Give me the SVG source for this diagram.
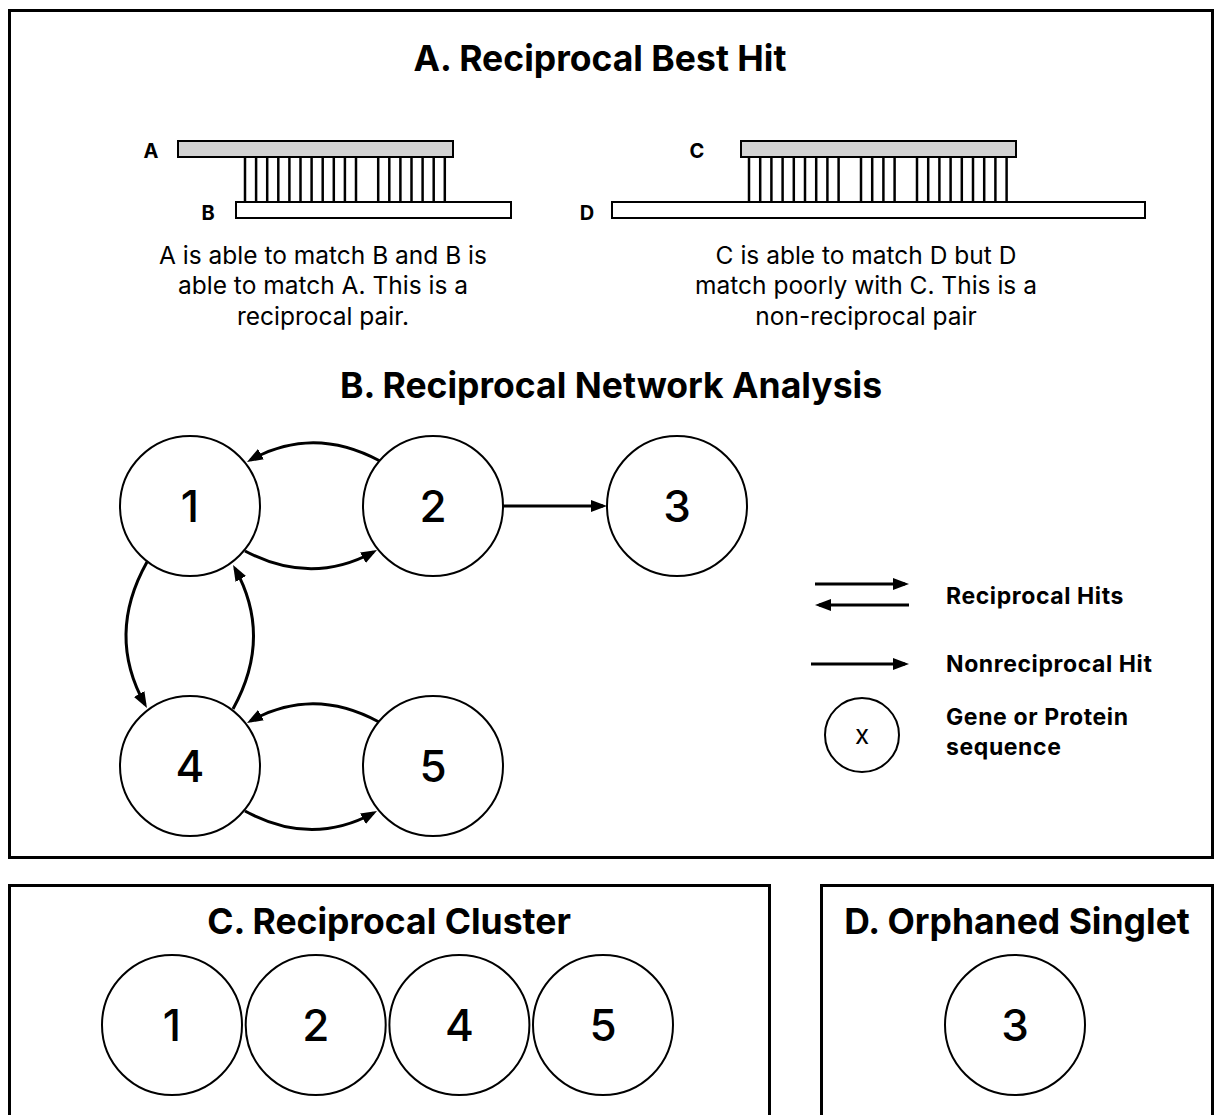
<svg xmlns="http://www.w3.org/2000/svg" width="1221" height="1115" viewBox="0 0 1221 1115">
<style>
text{font-family:Inter,"Liberation Sans",sans-serif;fill:#000}
.title{font-size:35.5px;font-weight:700;text-anchor:middle}
.body{font-size:24.5px;text-anchor:middle}
.lab{font-size:20px;font-weight:700;text-anchor:middle}
.num{font-size:44px;font-weight:500;text-anchor:middle}
.leg{font-size:23px;font-weight:700;letter-spacing:0.6px}
.panel{fill:none;stroke:#000;stroke-width:3}
.node{fill:#fff;stroke:#000;stroke-width:2}
.gray{fill:#d3d3d3;stroke:#000;stroke-width:2}
.white{fill:#fff;stroke:#000;stroke-width:2}
.tick{stroke:#000;stroke-width:2.5}
.edge{fill:none;stroke:#000;stroke-width:3;marker-end:url(#ah)}
</style>
<defs>
<marker id="ah" markerUnits="userSpaceOnUse" markerWidth="16" markerHeight="12" refX="12" refY="6" orient="auto">
<path d="M0,0 L16,6 L0,12 z" fill="#000"/>
</marker>
</defs>
<rect width="1221" height="1115" fill="#fff"/>
<rect class="panel" x="9.5" y="10.5" width="1203" height="847"/>
<rect class="panel" x="9.5" y="885.5" width="760" height="260"/>
<rect class="panel" x="821.5" y="885.5" width="391" height="260"/>

<g id="sectionA">
<text class="title" x="600" y="71">A. Reciprocal Best Hit</text>
<text class="lab" x="151" y="158">A</text>
<text class="lab" x="208" y="220">B</text>
<text class="lab" x="697" y="158">C</text>
<text class="lab" x="587" y="220">D</text>
<g id="ticksAB">
<line class="tick" x1="245" y1="157" x2="245" y2="202"/>
<line class="tick" x1="256.1" y1="157" x2="256.1" y2="202"/>
<line class="tick" x1="267.2" y1="157" x2="267.2" y2="202"/>
<line class="tick" x1="278.3" y1="157" x2="278.3" y2="202"/>
<line class="tick" x1="289.4" y1="157" x2="289.4" y2="202"/>
<line class="tick" x1="300.5" y1="157" x2="300.5" y2="202"/>
<line class="tick" x1="311.6" y1="157" x2="311.6" y2="202"/>
<line class="tick" x1="322.7" y1="157" x2="322.7" y2="202"/>
<line class="tick" x1="333.8" y1="157" x2="333.8" y2="202"/>
<line class="tick" x1="344.9" y1="157" x2="344.9" y2="202"/>
<line class="tick" x1="356" y1="157" x2="356" y2="202"/>
<line class="tick" x1="378.2" y1="157" x2="378.2" y2="202"/>
<line class="tick" x1="389.3" y1="157" x2="389.3" y2="202"/>
<line class="tick" x1="400.4" y1="157" x2="400.4" y2="202"/>
<line class="tick" x1="411.5" y1="157" x2="411.5" y2="202"/>
<line class="tick" x1="422.6" y1="157" x2="422.6" y2="202"/>
<line class="tick" x1="433.7" y1="157" x2="433.7" y2="202"/>
<line class="tick" x1="444.8" y1="157" x2="444.8" y2="202"/>
</g>
<g id="ticksCD">
<line class="tick" x1="749" y1="157" x2="749" y2="202"/>
<line class="tick" x1="760.2" y1="157" x2="760.2" y2="202"/>
<line class="tick" x1="771.4" y1="157" x2="771.4" y2="202"/>
<line class="tick" x1="782.6" y1="157" x2="782.6" y2="202"/>
<line class="tick" x1="793.8" y1="157" x2="793.8" y2="202"/>
<line class="tick" x1="805" y1="157" x2="805" y2="202"/>
<line class="tick" x1="816.2" y1="157" x2="816.2" y2="202"/>
<line class="tick" x1="827.4" y1="157" x2="827.4" y2="202"/>
<line class="tick" x1="838.6" y1="157" x2="838.6" y2="202"/>
<line class="tick" x1="861" y1="157" x2="861" y2="202"/>
<line class="tick" x1="872.2" y1="157" x2="872.2" y2="202"/>
<line class="tick" x1="883.4" y1="157" x2="883.4" y2="202"/>
<line class="tick" x1="894.6" y1="157" x2="894.6" y2="202"/>
<line class="tick" x1="917" y1="157" x2="917" y2="202"/>
<line class="tick" x1="928.2" y1="157" x2="928.2" y2="202"/>
<line class="tick" x1="939.4" y1="157" x2="939.4" y2="202"/>
<line class="tick" x1="950.6" y1="157" x2="950.6" y2="202"/>
<line class="tick" x1="961.8" y1="157" x2="961.8" y2="202"/>
<line class="tick" x1="973" y1="157" x2="973" y2="202"/>
<line class="tick" x1="984.2" y1="157" x2="984.2" y2="202"/>
<line class="tick" x1="995.4" y1="157" x2="995.4" y2="202"/>
<line class="tick" x1="1006.6" y1="157" x2="1006.6" y2="202"/>
</g>
<rect id="barA" class="gray" x="178" y="141" width="275" height="16"/>
<rect id="barB" class="white" x="236" y="202" width="275" height="16"/>
<rect id="barC" class="gray" x="741" y="141" width="275" height="16"/>
<rect id="barD" class="white" x="612" y="202" width="533" height="16"/>
<text class="body" x="323" y="264">A is able to match B and B is</text>
<text class="body" x="323" y="294">able to match A. This is a</text>
<text class="body" x="323" y="325">reciprocal pair.</text>
<text class="body" x="866" y="264">C is able to match D but D</text>
<text class="body" x="866" y="294">match poorly with C. This is a</text>
<text class="body" x="866" y="325">non-reciprocal pair</text>
</g>

<text class="title" x="611" y="398">B. Reciprocal Network Analysis</text>

<g id="connectors">
<path class="edge" d="M380,461 Q313,425 250.5,460"/>
<path class="edge" d="M245,551 Q311,586 373.5,552"/>
<path class="edge" d="M503,506 L603,506"/>
<path class="edge" d="M147,562 Q106,635 145,704.5"/>
<path class="edge" d="M233,709 Q273,637 235,568.5"/>
<path class="edge" d="M379,722 Q313,686 250.5,721"/>
<path class="edge" d="M245,811 Q311,847 373.5,813"/>
</g>

<g id="node1"><circle class="node" cx="190" cy="506" r="70"/><text class="num" x="190" y="522">1</text></g>
<g id="node2"><circle class="node" cx="433" cy="506" r="70"/><text class="num" x="433" y="522">2</text></g>
<g id="node3"><circle class="node" cx="677" cy="506" r="70"/><text class="num" x="677" y="522">3</text></g>
<g id="node4"><circle class="node" cx="190" cy="766" r="70"/><text class="num" x="190" y="782">4</text></g>
<g id="node5"><circle class="node" cx="433" cy="766" r="70"/><text class="num" x="433" y="782">5</text></g>

<g id="legend">
<path class="edge" d="M815,584 L905,584"/>
<path class="edge" d="M909,605 L819,605"/>
<text class="leg" x="946" y="604">Reciprocal Hits</text>
<path class="edge" d="M811,664 L905,664"/>
<text class="leg" x="946" y="672">Nonreciprocal Hit</text>
<circle class="node" cx="862" cy="735" r="37"/>
<text x="862" y="744" style="font-size:26px;text-anchor:middle">x</text>
<text class="leg" x="946" y="725">Gene or Protein</text>
<text class="leg" x="946" y="755">sequence</text>
</g>

<g id="sectionC">
<text class="title" x="389" y="934">C. Reciprocal Cluster</text>
<g id="c1"><circle class="node" cx="172" cy="1025" r="70"/><text class="num" x="172" y="1041">1</text></g>
<g id="c2"><circle class="node" cx="315.7" cy="1025" r="70"/><text class="num" x="315.7" y="1041">2</text></g>
<g id="c4"><circle class="node" cx="459.4" cy="1025" r="70"/><text class="num" x="459.4" y="1041">4</text></g>
<g id="c5"><circle class="node" cx="603" cy="1025" r="70"/><text class="num" x="603" y="1041">5</text></g>
</g>

<g id="sectionD">
<text class="title" x="1017" y="934">D. Orphaned Singlet</text>
<g id="d3"><circle class="node" cx="1015" cy="1025" r="70"/><text class="num" x="1015" y="1041">3</text></g>
</g>
</svg>
